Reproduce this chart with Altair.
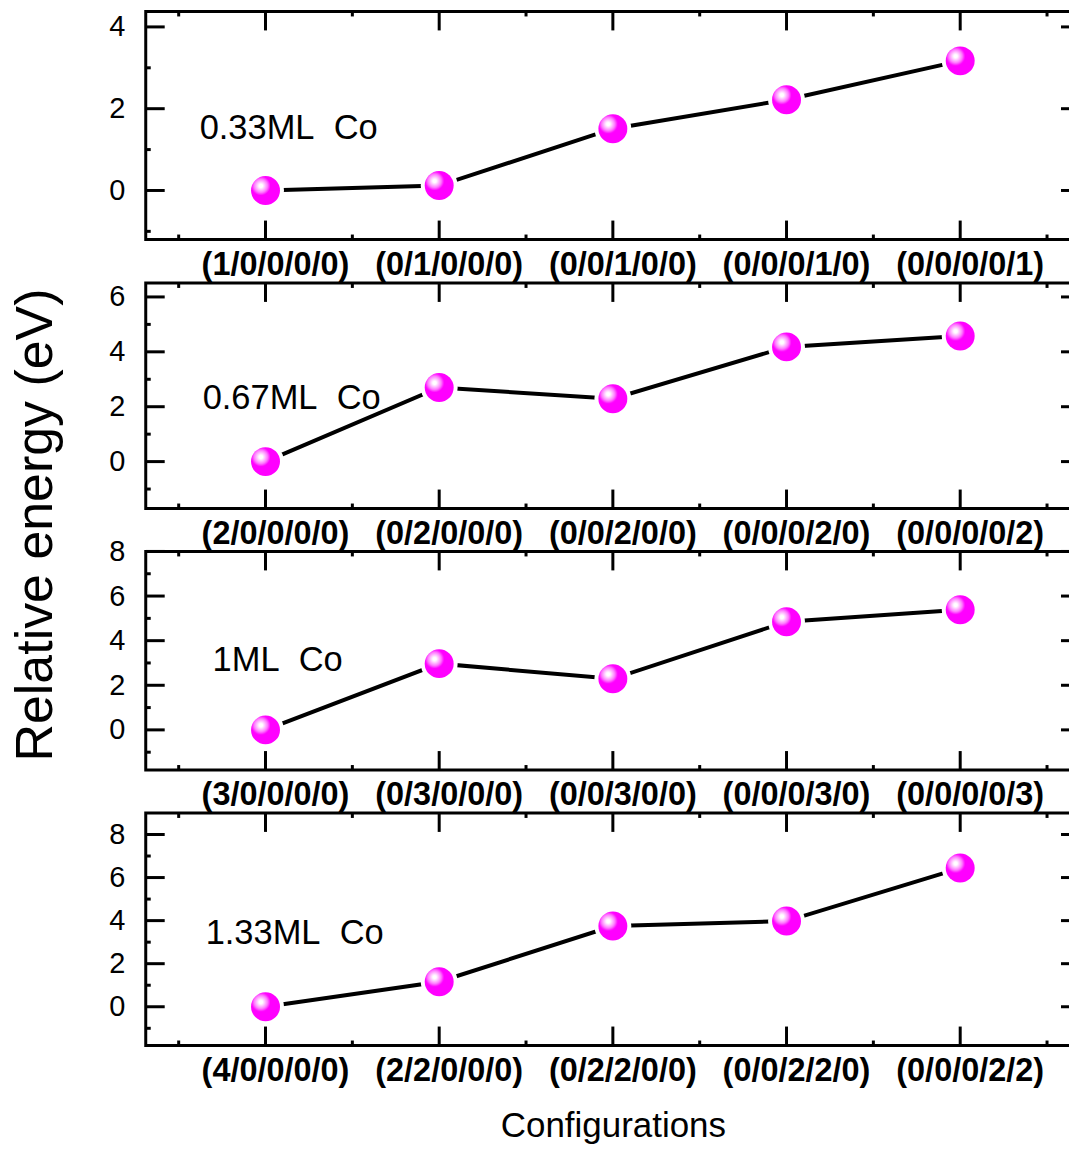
import altair as alt
import pandas as pd

FONT = "Liberation Sans"
NB = "\u00a0"

labels_1 = ["(1/0/0/0/0)", "(0/1/0/0/0)", "(0/0/1/0/0)", "(0/0/0/1/0)", "(0/0/0/0/1)"]
energy_1 = [0.0, 0.12, 1.51, 2.22, 3.17]
labels_2 = ["(2/0/0/0/0)", "(0/2/0/0/0)", "(0/0/2/0/0)", "(0/0/0/2/0)", "(0/0/0/0/2)"]
energy_2 = [0.0, 2.70, 2.29, 4.18, 4.58]
labels_3 = ["(3/0/0/0/0)", "(0/3/0/0/0)", "(0/0/3/0/0)", "(0/0/0/3/0)", "(0/0/0/0/3)"]
energy_3 = [0.0, 2.97, 2.29, 4.85, 5.39]
labels_4 = ["(4/0/0/0/0)", "(2/2/0/0/0)", "(0/2/2/0/0)", "(0/0/2/2/0)", "(0/0/0/2/2)"]
energy_4 = [0.0, 1.16, 3.75, 3.98, 6.44]
coverages = ["0.33ML" + NB + NB + "Co", "0.67ML" + NB + NB + "Co",
             "1ML" + NB + NB + "Co", "1.33ML" + NB + NB + "Co"]

y_major = [[0, 2, 4], [0, 2, 4, 6], [0, 2, 4, 6, 8], [0, 2, 4, 6, 8]]
y_minor = [[-1, 1, 3], [-1, 1, 3, 5], [-1, 1, 3, 5, 7], [-1, 1, 3, 5, 7]]
y_domains = [[-1.2, 4.378], [-1.71, 6.51], [-1.8, 8.0], [-1.8, 9.0]]

all_labels = [labels_1, labels_2, labels_3, labels_4]
all_energy = [energy_1, energy_2, energy_3, energy_4]

W = 936
heights = [228.5, 226, 219, 233]
ann_pos = [(54, 127.5), (57, 126), (67, 120), (60, 131)]

ball_fill = {
    "gradient": "radial",
    "x1": 0.34, "y1": 0.34, "r1": 0,
    "x2": 0.34, "y2": 0.34, "r2": 0.33,
    "stops": [
        {"offset": 0.0, "color": "#ffffff"},
        {"offset": 0.18, "color": "#ffffff"},
        {"offset": 0.4, "color": "#ffc8ff"},
        {"offset": 0.7, "color": "#ff7aff"},
        {"offset": 1.0, "color": "#ff00ff"},
    ],
}


def panel(i):
    labels = all_labels[i]
    energy = all_energy[i]
    H = heights[i]
    df = pd.DataFrame({"cfg": labels, "E": energy, "idx": list(range(len(labels)))})

    xscale = alt.Scale(type="band", domain=labels, paddingInner=0,
                       paddingOuter=0.1897, align=0.5)
    yscale = alt.Scale(domain=y_domains[i], nice=False, zero=False)

    xkw = dict(ticks=False, domain=False, grid=False, labelFontSize=32.5,
               labelFontWeight="bold", labelPadding=9, labelOffset=10, labelAngle=0,
               labelOverlap=False, labelColor="black", labelFont=FONT)
    if i == 3:
        xkw.update(title="Configurations", titleFontSize=35, titleFontWeight="normal",
                   titlePadding=22, titleColor="black", titleFont=FONT)
    else:
        xkw.update(title=None)
    xaxis = alt.Axis(**xkw)

    ykw = dict(ticks=False, domain=False, grid=False, values=y_major[i],
               labelFontSize=29, labelPadding=21, labelColor="black", labelFont=FONT)
    if i == 1:
        ykw.update(title="Relative energy (eV)", titleFontSize=52, titleFontWeight="normal",
                   titleX=-94, titleY=242, titleBaseline="alphabetic", titleAngle=270,
                   titleAlign="center", titleColor="black", titleFont=FONT)
    else:
        ykw.update(title=None)
    yaxis = alt.Axis(**ykw)

    X = alt.X("cfg:N", scale=xscale, axis=xaxis)
    Xc = alt.X("cfg:N", scale=xscale, axis=xaxis, bandPosition=0.5)
    X0 = alt.X("cfg:N", scale=xscale, axis=xaxis, bandPosition=0)
    X1 = alt.X("cfg:N", scale=xscale, axis=xaxis, bandPosition=1)
    Y = alt.Y("E:Q", scale=yscale, axis=yaxis)

    tick = dict(color="black", strokeWidth=3)
    ymaj = pd.DataFrame({"E": y_major[i]})
    ymin = pd.DataFrame({"E": y_minor[i]})
    cats = pd.DataFrame({"cfg": labels})
    lastcat = pd.DataFrame({"cfg": labels[-1:]})

    layers = [
        alt.Chart(ymaj).mark_rule(**tick).encode(y=Y, x=alt.value(0), x2=alt.value(19)),
        alt.Chart(ymaj).mark_rule(**tick).encode(y=Y, x=alt.value(W), x2=alt.value(W - 19)),
        alt.Chart(ymin).mark_rule(**tick).encode(y=Y, x=alt.value(0), x2=alt.value(5)),
        alt.Chart(ymin).mark_rule(**tick).encode(y=Y, x=alt.value(W), x2=alt.value(W - 5)),
        alt.Chart(cats).mark_rule(**tick).encode(x=Xc, y=alt.value(0), y2=alt.value(19)),
        alt.Chart(cats).mark_rule(**tick).encode(x=Xc, y=alt.value(H), y2=alt.value(H - 19)),
        alt.Chart(cats).mark_rule(**tick).encode(x=X0, y=alt.value(0), y2=alt.value(5)),
        alt.Chart(cats).mark_rule(**tick).encode(x=X0, y=alt.value(H), y2=alt.value(H - 5)),
        alt.Chart(lastcat).mark_rule(**tick).encode(x=X1, y=alt.value(0), y2=alt.value(5)),
        alt.Chart(lastcat).mark_rule(**tick).encode(x=X1, y=alt.value(H), y2=alt.value(H - 5)),
        alt.Chart(df).mark_line(color="black", strokeWidth=4).encode(
            x=X, y=Y, order=alt.Order("idx:Q")),
        alt.Chart(df).mark_circle(color="white", size=1369, opacity=1).encode(x=X, y=Y),
        alt.Chart(df).mark_circle(fill=ball_fill, size=841, opacity=1).encode(x=X, y=Y),
        alt.Chart(pd.DataFrame({"t": [coverages[i]]})).mark_text(
            align="left", baseline="alphabetic", fontSize=34.5, font=FONT, color="black"
        ).encode(x=alt.value(ann_pos[i][0]), y=alt.value(ann_pos[i][1]), text="t:N"),
    ]
    return alt.layer(*layers).properties(width=W, height=H)


chart = alt.vconcat(*[panel(i) for i in range(4)], spacing=43, bounds="flush").properties(
    padding={"left": 0, "top": -0.6, "right": -14, "bottom": 0}
).configure(font=FONT).configure_view(stroke="black", strokeWidth=3)

chart.save("out.html", embed_options={"renderer": "svg", "actions": False})
